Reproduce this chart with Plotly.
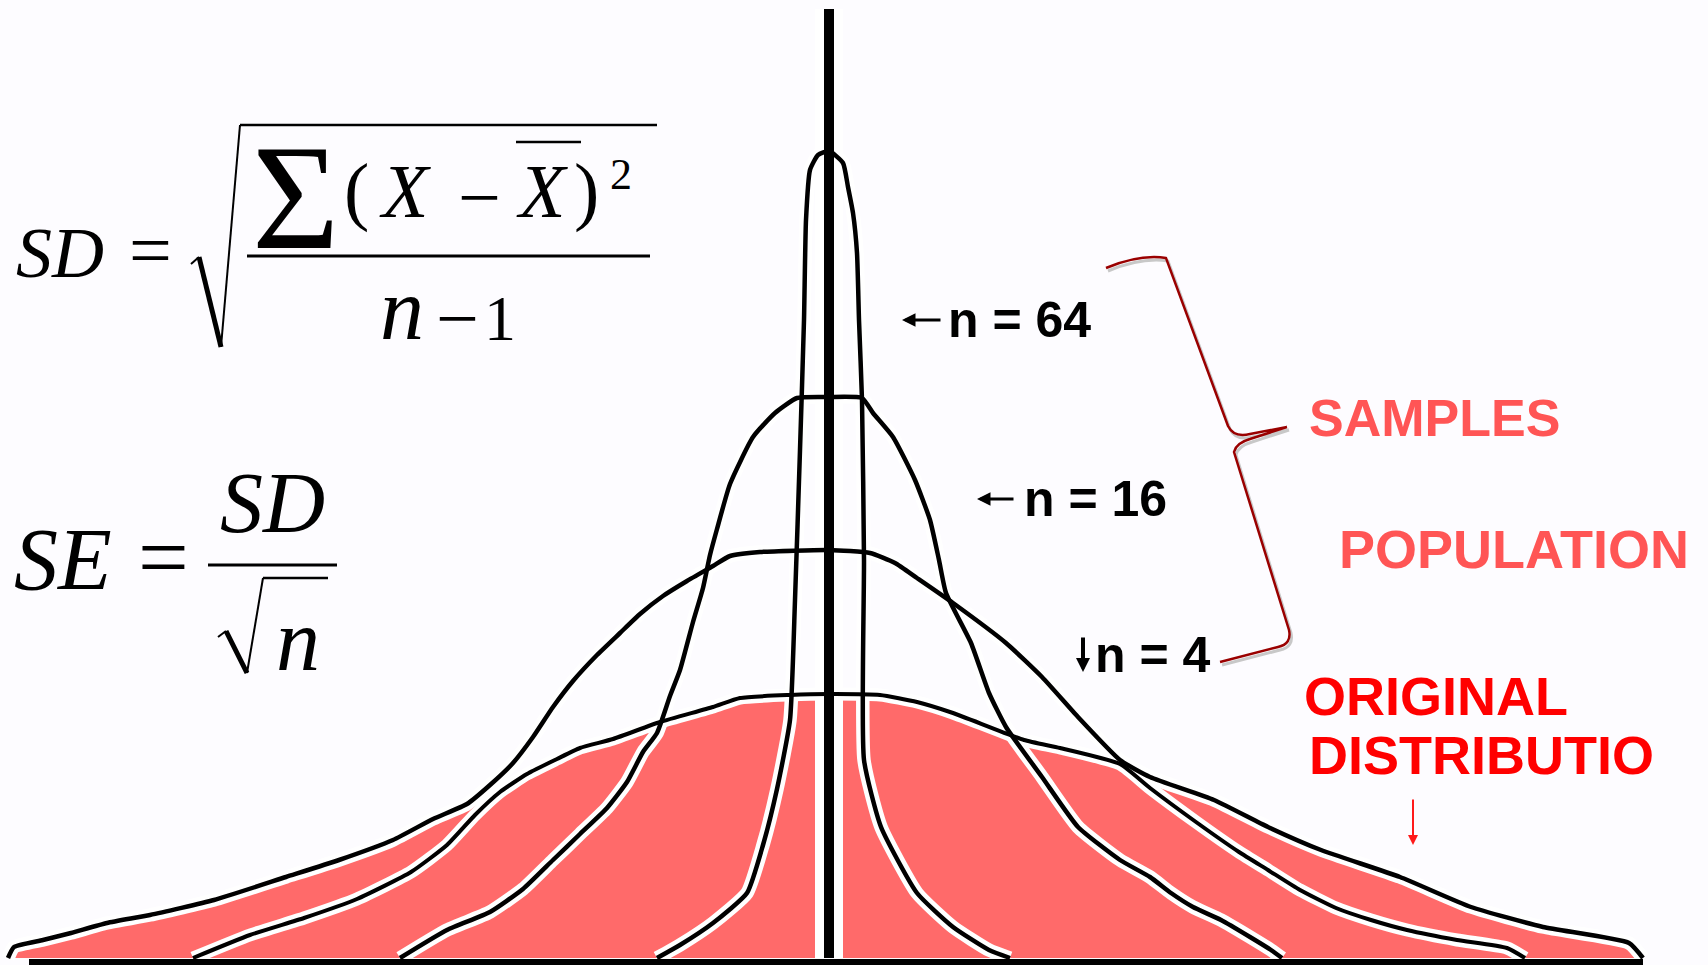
import plotly.graph_objects as go

# horizontal offset from the common mean, and height above the baseline (drawing units)
orig_x = [-636, -579, -525, -472, -418, -382, -354, -329, -302, -272, -249, -216, -169, -116, -89, -39, 0,
          51, 88, 124, 195, 231, 291, 321, 367, 410, 439, 471, 507, 542, 578, 628, 678, 696]
orig_h = [0, 23, 40, 59, 86, 113, 143, 166, 184, 199, 210, 219, 236, 251, 260, 263, 264,
          263, 256, 245, 218, 210, 194, 170, 136, 106, 88, 68, 50, 38, 28, 18, 10, 0]

# red area under the original distribution (its upper edge)
fill_x = [-819, -815, -786, -758, -722, -679, -615, -543, -490, -436, -396, -362, -332, -302, -272, -249,
          -216, -169, -116, -89, -39, 0, 51, 88, 124, 195, 231, 291, 321, 385, 439, 492, 571, 642, 714, 800, 814]
fill_h = [0, 11, 18, 25, 35, 43, 58, 81, 98, 118, 137, 152, 168, 184, 199, 210,
          219, 236, 251, 260, 263, 264, 263, 256, 245, 218, 210, 196, 181, 158, 131, 108, 81, 51, 31, 15, 0]

n4_x = [-821, -815, -786, -758, -722, -679, -615, -543, -490, -436, -396, -362, -339, -316, -296, -276, -256,
        -232, -209, -189, -166, -142, -116, -99, -69, 0, 41, 66, 88, 124, 177, 213, 249, 291, 321, 385, 439,
        492, 571, 642, 714, 800, 814]
n4_h = [0, 11, 18, 25, 35, 43, 58, 81, 98, 118, 139, 154, 173, 195, 221, 251, 277,
        303, 325, 344, 362, 377, 392, 402, 406, 408, 405, 395, 380, 355, 315, 281, 241, 198, 181, 158, 131,
        108, 81, 51, 31, 15, 0]

n16_x = [-429, -382, -339, -306, -276, -249, -222, -202, -186, -172, -159, -149, -136, -126, -119, -112, -99,
         -76, -54, -32, 0, 33, 44, 64, 86, 101, 110, 117, 142, 160, 177, 213, 249, 291, 321, 342, 364, 392,
         421, 442, 453]
n16_h = [0, 28, 46, 69, 98, 124, 150, 176, 206, 225, 262, 288, 336, 370, 403, 429, 474,
         521, 545, 560, 561, 560, 545, 521, 478, 438, 398, 365, 315, 265, 231, 181, 131, 98, 81, 65, 51, 38,
         21, 8, 0]

n64_x = [-172, -149, -116, -82, -66, -52, -39, -34, -29, -25, -23, -19, -11, 0, 14, 19, 24, 28, 30, 33, 35,
         35, 52, 88, 124, 160, 181]
n64_h = [0, 13, 35, 65, 113, 169, 238, 358, 508, 638, 738, 788, 803, 807, 795, 771, 745, 705, 638, 558, 398,
         198, 131, 65, 31, 8, 0]

W, H = 1708, 965


def px(x):
    return x / W


def py(y):
    return 1 - y / H


fig = go.Figure()

# red original distribution
fig.add_trace(go.Scatter(x=fill_x, y=fill_h, mode='lines', fill='tozeroy', fillcolor='#ff6a6a',
                         line=dict(width=0, shape='spline', smoothing=0.5), hoverinfo='skip'))

curves = [(orig_x, orig_h, 4), (n4_x, n4_h, 4.5), (n16_x, n16_h, 4.5), (n64_x, n64_h, 4.5)]
# white halos first, then the black strokes
for cx, ch, w in curves:
    fig.add_trace(go.Scatter(x=cx, y=ch, mode='lines', line=dict(color='white', width=w + 9, shape='spline', smoothing=0.5),
                             hoverinfo='skip'))
fig.add_trace(go.Scatter(x=[0, 0], y=[0, 949], mode='lines', line=dict(color='white', width=28), hoverinfo='skip'))
for cx, ch, w in curves:
    fig.add_trace(go.Scatter(x=cx, y=ch, mode='lines', line=dict(color='black', width=w, shape='spline', smoothing=0.5),
                             hoverinfo='skip'))
fig.add_trace(go.Scatter(x=[0, 0], y=[0, 949], mode='lines', line=dict(color='black', width=10), hoverinfo='skip'))
fig.add_trace(go.Scatter(x=[-800, 814], y=[-4, -4], mode='lines', line=dict(color='black', width=6), hoverinfo='skip'))

SERIF = 'Liberation Serif, Times New Roman, serif'
SANS = 'Liberation Sans, Arial, sans-serif'

ann = []


def txt(s, x, y, size, family=SERIF, color='black', xanchor='center'):
    ann.append(dict(text=s, x=px(x), y=py(y), xref='paper', yref='paper', showarrow=False,
                    xanchor=xanchor, yanchor='middle', font=dict(family=family, size=size, color=color)))


def arrow(x, y, ax, ay, w, color='black', size=1.0):
    ann.append(dict(text='', x=px(x), y=py(y), xref='paper', yref='paper', showarrow=True,
                    ax=ax, ay=ay, arrowhead=2, arrowsize=size, arrowwidth=w, arrowcolor=color))


# SD formula
txt('<i>SD</i>', 60, 253, 72)
txt('=', 150, 250, 76)
txt('Σ', 295, 197, 150)
txt('(', 356, 191, 76)
txt('<i>X</i>', 405, 191, 76)
txt('−', 480, 197, 76)
txt('<i>X</i>', 542, 191, 76)
txt(')', 586, 191, 76)
txt('2', 621, 174, 44)
txt('<i>n</i>', 402, 309, 88)
txt('−', 457, 318, 76)
txt('1', 500, 318, 64)

# SE formula
txt('<i>SE</i>', 63, 559, 88)
txt('=', 163, 557, 90)
txt('<i>SD</i>', 272, 503, 86)
txt('<i>n</i>', 298, 640, 88)

# sample size labels
txt('<b>n = 64</b>', 946, 320, 50, SANS, xanchor='left')
arrow(902, 320, 40, 0, 3, size=0.9)
txt('<b>n = 16</b>', 1022, 499, 50, SANS, xanchor='left')
arrow(977, 499, 38, 0, 3, size=0.9)
txt('<b>n = 4</b>', 1093, 655, 50, SANS, xanchor='left')
arrow(1083, 672, 0, -36, 4, size=0.7)

txt('<b>SAMPLES</b>', 1434, 418, 52, SANS, '#ff5555')
txt('<b>POPULATION</b>', 1514, 549, 54, SANS, '#ff5555')
txt('<b>ORIGINAL</b>', 1302, 696, 54, SANS, '#ff0000', 'left')
txt('<b>DISTRIBUTIO</b>', 1307, 755, 54, SANS, '#ff0000', 'left')
arrow(1413, 845, 0, -47, 2, '#ff1a1a')

shapes = []


def seg(x0, y0, x1, y1, w, color='black'):
    shapes.append(dict(type='line', xref='paper', yref='paper', x0=px(x0), y0=py(y0), x1=px(x1), y1=py(y1),
                       line=dict(color=color, width=w)))


def path(cmds, w, color):
    parts = []
    for c, pts in cmds:
        parts.append(c + ' ' + ' '.join(f'{px(a):.5f},{py(b):.5f}' for a, b in pts))
    shapes.append(dict(type='path', xref='paper', yref='paper', path=' '.join(parts),
                       line=dict(color=color, width=w)))


# square roots, fraction bars, bar over X
seg(191, 264, 199, 257, 2)
seg(199, 257, 221, 347, 5)
seg(221, 347, 240, 125, 2)
seg(240, 125, 657, 125, 2.5)
seg(247, 256, 650, 256, 3)
seg(516, 142, 581, 142, 2.5)

seg(218, 637, 226, 631, 2)
seg(226, 631, 247, 673, 5)
seg(247, 673, 263, 578, 2)
seg(263, 578, 328, 578, 2.5)
seg(208, 565, 337, 565, 3)

# brace
brace = [('M', [(1106, 268)]), ('Q', [(1140, 254), (1166, 258)]), ('L', [(1228, 426)]),
         ('Q', [(1234, 438), (1250, 434)]), ('L', [(1287, 427)]),
         ('M', [(1287, 427)]), ('L', [(1250, 439)]), ('Q', [(1236, 443), (1234, 452)]),
         ('L', [(1289, 630)]), ('Q', [(1292, 644), (1278, 647)]), ('L', [(1220, 662)])]
shadow = [(c, [(a + 2, b + 3) for a, b in pts]) for c, pts in brace]
path(shadow, 3, '#c8c8c8')
path(brace, 2.5, '#9a0000')

fig.update_layout(
    width=W, height=H, margin=dict(l=0, r=0, t=0, b=0),
    paper_bgcolor='#fdfcff', plot_bgcolor='#fdfcff', showlegend=False,
    xaxis=dict(range=[-829, 879], visible=False, fixedrange=True),
    yaxis=dict(range=[-7, 958], visible=False, fixedrange=True),
    annotations=ann, shapes=shapes,
)

fig.write_html("out.html", config={'displayModeBar': False},
               post_script="document.body.style.margin='0';document.body.style.overflow='hidden';")
